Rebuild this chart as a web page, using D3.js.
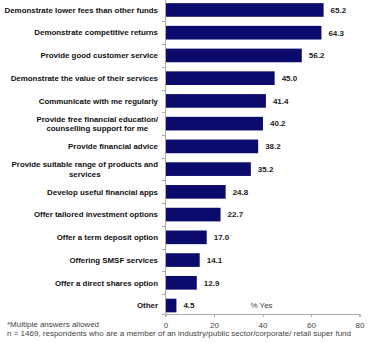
<!DOCTYPE html>
<html><head><meta charset="utf-8">
<script src="https://cdn.jsdelivr.net/npm/d3@7"></script>
<style>body{margin:0;background:#fff}svg{display:block}</style>
</head><body>
<svg id="c" width="370" height="343"></svg>
<script>
const categories = [
  "Demonstrate lower fees than other funds",
  "Demonstrate competitive returns",
  "Provide good customer service",
  "Demonstrate the value of their services",
  "Communicate with me regularly",
  "Provide free financial education/|counselling support for me",
  "Provide financial advice",
  "Provide suitable range of products and|services",
  "Develop useful financial apps",
  "Offer tailored investment options",
  "Offer a term deposit option",
  "Offering SMSF services",
  "Offer a direct shares option",
  "Other"
];
const values = [65.2, 64.3, 56.2, 45.0, 41.4, 40.2, 38.2, 35.2, 24.8, 22.7, 17.0, 14.1, 12.9, 4.5];
const xTicks = [0, 20, 40, 60, 80];
const axisTitle = "% Yes";
const notes = ["*Multiple answers allowed", "n = 1469, respondents who are a member of an industry/public sector/corporate/ retail super fund"];

const svg = d3.select("#c");
const x = d3.scaleLinear().domain([0, 80]).range([165.5, 359.5]);
const y = d3.scaleBand().domain(categories).range([-1.4, 316.9]).paddingInner(0.4).paddingOuter(0.2);
const axisY = 314;
const font = "'Liberation Sans', Arial, sans-serif";

// bars
svg.append("g").selectAll("rect").data(values).join("rect")
  .attr("x", x(0)).attr("y", (d,i) => y(categories[i]))
  .attr("width", d => x(d) - x(0)).attr("height", y.bandwidth())
  .attr("fill", "#0b0b6d");

// value labels
svg.append("g").selectAll("text").data(values).join("text")
  .attr("x", d => x(d) + 7).attr("y", (d,i) => y(categories[i]) + y.bandwidth()/2)
  .attr("dy", "0.35em").attr("font-family", font).attr("font-weight", "bold")
  .attr("font-size", 8).attr("fill", "#222").text(d => d.toFixed(1));

// y axis
const ya = svg.append("g");
ya.append("line").attr("x1", 165.5).attr("x2", 165.5).attr("y1", 0).attr("y2", axisY).attr("stroke", "#aaa");
const bounds = categories.map((c,i) => y(c) - y.step()*0.2).concat([axisY]);
ya.selectAll("line.t").data(bounds).join("line").attr("class","t")
  .attr("x1", 162).attr("x2", 165.5).attr("y1", d => Math.round(d)+0.5).attr("y2", d => Math.round(d)+0.5).attr("stroke", "#aaa");

// category labels
const lg = svg.append("g").attr("font-family", font).attr("font-weight", "bold").attr("font-size", 7.9).attr("fill", "#111");
categories.forEach((c,i) => {
  const lines = c.split("|");
  const cy = y(c) + y.bandwidth()/2;
  const g = lg.append("g");
  const lh = 9.5;
  const ts = lines.map((l,k) => g.append("text").attr("y", cy + (k - (lines.length-1)/2)*lh).attr("dy","0.35em").text(l));
  const widths = ts.map(t => t.node().getComputedTextLength());
  const maxW = Math.max(...widths);
  const right = 158;
  const center = right - maxW/2;
  ts.forEach(t => t.attr("x", center).attr("text-anchor","middle"));
});

// x axis
const xa = svg.append("g").attr("transform", `translate(0,${axisY})`)
  .call(d3.axisBottom(x).tickValues(xTicks).tickSize(3).tickFormat(d3.format("d")));
xa.select(".domain").attr("stroke", "#aaa");
xa.selectAll(".tick line").attr("stroke", "#aaa");
xa.selectAll(".tick text").attr("font-family", font).attr("font-size", 8).attr("fill", "#444").attr("dy", "1em");

svg.append("text").attr("x", x(35)).attr("y", y("Other") + y.bandwidth()/2).attr("dy", "0.35em")
  .attr("font-family", font).attr("font-size", 8).attr("fill", "#444").text(axisTitle);

svg.append("text").attr("x", 7).attr("y", 327).attr("font-family", font).attr("font-size", 8).attr("fill", "#444").text(notes[0]);
svg.append("text").attr("x", 7).attr("y", 336).attr("font-family", font).attr("font-size", 8).attr("fill", "#444").text(notes[1]);
</script>
</body></html>
